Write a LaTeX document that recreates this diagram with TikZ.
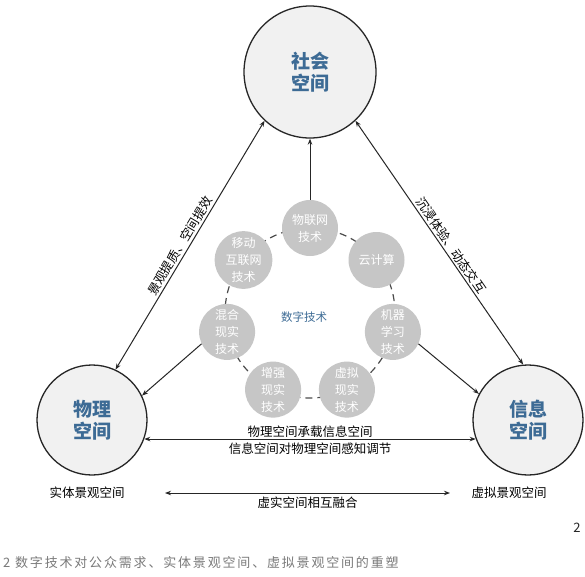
\documentclass[tikz,border=0pt]{standalone}
\usepackage{fontspec}
\usepackage{tikz}
\usetikzlibrary{arrows.meta}
\setmainfont{Noto Sans CJK SC}
\newfontfamily\captionfont{Noto Sans CJK SC}[LetterSpace=14]
\definecolor{spaceblue}{HTML}{3D6B95}
\definecolor{spacefill}{HTML}{F1F1F1}
\definecolor{techgray}{HTML}{C6C6C6}
\definecolor{linegray}{HTML}{262626}
\definecolor{captiongray}{HTML}{7A7A7A}
\newcommand{\spacefont}{\fontsize{19pt}{22pt}\selectfont\bfseries}
\newcommand{\techfont}{\fontsize{12pt}{17pt}\selectfont}
\newcommand{\labelfont}{\fontsize{12.5pt}{15pt}\selectfont}

\tikzset{
  spacecircle/.style={circle, draw=linegray, line width=1.3pt, fill=spacefill,
    minimum size=#1, inner sep=0pt, align=center, text=spaceblue, font=\spacefont},
  techcircle/.style={circle, fill=techgray, minimum size=56pt, inner sep=0pt,
    align=center, text=white, font=\techfont},
  link/.style={draw=linegray, line width=1pt, -{Stealth[length=6pt,width=4.5pt]}},
  twoway/.style={link, {Stealth[length=6pt,width=4.5pt]}-{Stealth[length=6pt,width=4.5pt]}},
  tag/.style={font=\labelfont, text=black, inner sep=2pt},
}

\begin{document}
\begin{tikzpicture}[x=1pt, y=-1pt]
\useasboundingbox[fill=white] (0,0) rectangle (585,576);

% Three spaces
\node[spacecircle=132pt] (soc) at (310,72) {社会\\空间};
\node[spacecircle=110pt] (phys) at (92,420) {物理\\空间};
\node[spacecircle=110pt] (info) at (528,420) {信息\\空间};

% Ring of digital technologies
\draw[draw=black!70, line width=1.2pt, dash pattern=on 7pt off 5pt] (310,313) circle (85pt);
\node[techcircle] (iot) at (310,228) {物联网\\技术};
\node[techcircle] (cloud) at (376.5,260) {云计算};
\node[techcircle] (ml) at (392.9,331.9) {机器\\学习\\技术};
\node[techcircle] (vr) at (346.9,389.6) {虚拟\\现实\\技术};
\node[techcircle] (ar) at (273.1,389.6) {增强\\现实\\技术};
\node[techcircle] (mr) at (227.1,331.9) {混合\\现实\\技术};
\node[techcircle] (mob) at (243.5,260) {移动\\互联网\\技术};
\node[font=\fontsize{11.5pt}{14pt}\selectfont, text=spaceblue] (digi) at (304,317) {数字技术};

% Technologies feed the spaces
\draw[link] (iot) -- (soc);
\draw[link] (mr.205) -- (phys.26);
\draw[link] (ml.-25) -- (info.152);

% Links between spaces
\draw[twoway] (soc.227) -- node[tag, sloped, above, pos=0.52] {景观提质、空间提效} (phys.65);
\draw[twoway] (soc.313) -- node[tag, sloped, above, pos=0.53] {沉浸体验、动态交互} (info.95);
\draw[twoway] (phys.-20) -- node[tag, above, inner sep=1pt] {物理空间承载信息空间}
  node[tag, below, inner sep=3pt] {信息空间对物理空间感知调节} (info.200);

% Landscape spaces
\node[tag] (realsp) at (87,493) {实体景观空间};
\node[tag] (virtsp) at (509,493) {虚拟景观空间};
\coordinate (fuseL) at (165,493);
\coordinate (fuseR) at (450,493);
\draw[twoway, line width=0.9pt] (fuseL) -- node[tag, below, inner sep=3pt] {虚实空间相互融合} (fuseR);

% Figure number and caption
\node[font=\fontsize{13pt}{15pt}\selectfont, text=black!85] (fignum) at (577,528) {2};
\node[anchor=west, font=\captionfont\fontsize{13pt}{16pt}\selectfont, text=captiongray, inner sep=0pt] (caption) at (3,563)
  {2 数字技术对公众需求、实体景观空间、虚拟景观空间的重塑};
\end{tikzpicture}
\end{document}
